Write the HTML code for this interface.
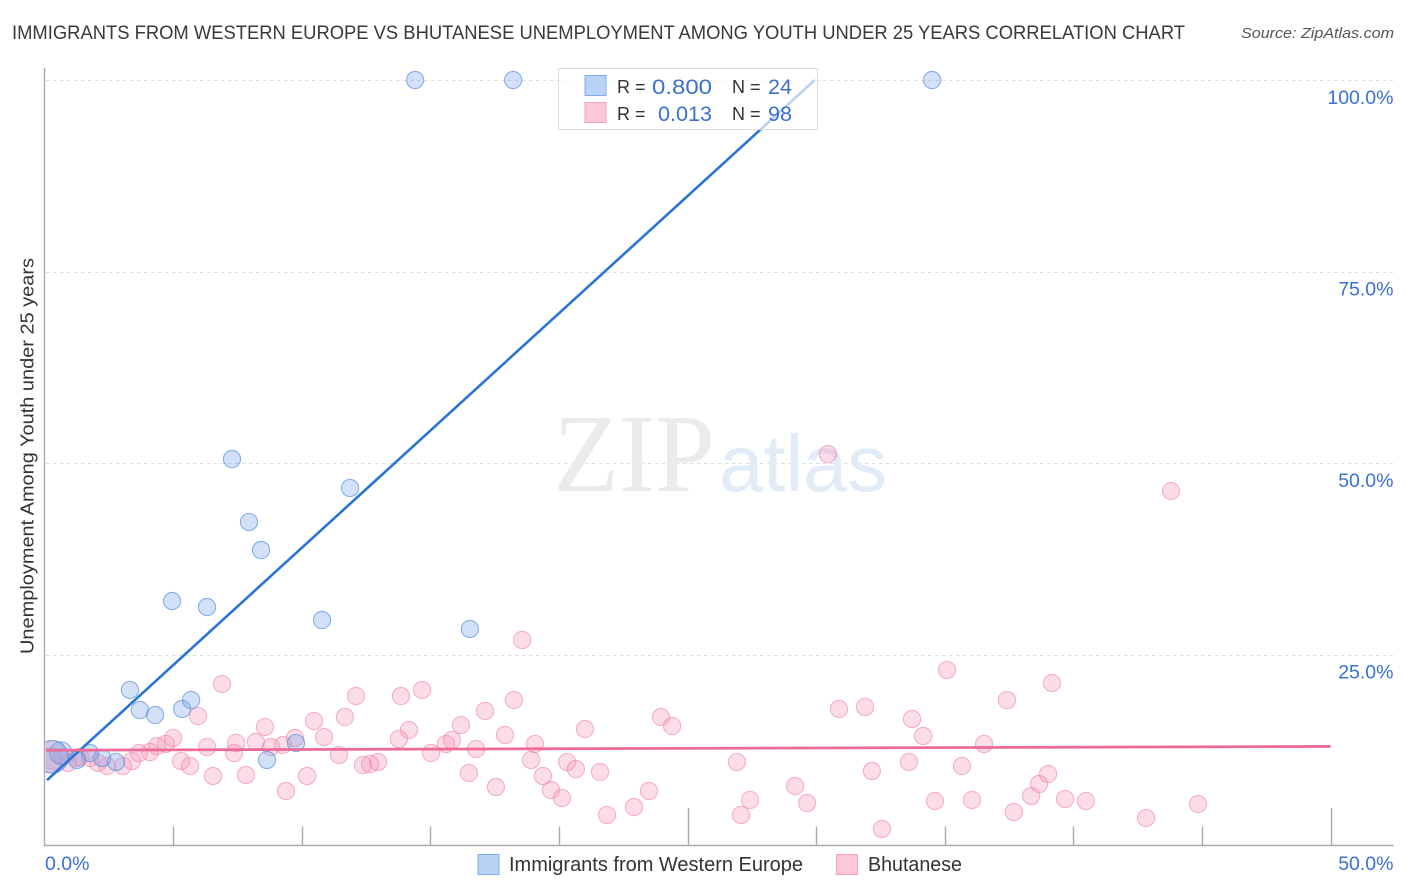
<!DOCTYPE html>
<html lang="en">
<head>
<meta charset="utf-8">
<title>Immigrants from Western Europe vs Bhutanese Unemployment Correlation Chart</title>
<style>
  html, body { margin: 0; padding: 0; background: #fff; }
  body { width: 1406px; height: 892px; overflow: hidden; }
  svg { display: block; font-family: "Liberation Sans", sans-serif; }
</style>
</head>
<body>
<svg id="chart" xmlns="http://www.w3.org/2000/svg" width="1406" height="892" viewBox="0 0 1406 892">
  <defs>
    <clipPath id="plot-clip"><rect x="45.5" y="60" width="1350" height="785"/></clipPath>
  </defs>
  <text x="12" y="39" font-size="19.5" fill="#38383e" textLength="1173" lengthAdjust="spacingAndGlyphs">IMMIGRANTS FROM WESTERN EUROPE VS BHUTANESE UNEMPLOYMENT AMONG YOUTH UNDER 25 YEARS CORRELATION CHART</text>
  <text x="1241" y="38" font-size="15" font-style="italic" fill="#555" textLength="153" lengthAdjust="spacingAndGlyphs">Source: ZipAtlas.com</text>

  <g id="grid"></g>

  <g>
    <text x="553" y="491" font-family="'Liberation Serif', serif" font-size="111" fill="#ebebeb" textLength="162" lengthAdjust="spacingAndGlyphs">ZIP</text>
    <text x="719" y="491" font-size="80" fill="#e2ebf8" textLength="168" lengthAdjust="spacingAndGlyphs">atlas</text>
  </g>

  <g id="axes"></g>
  <g id="pink-points" clip-path="url(#plot-clip)"></g>
  <g id="blue-points" clip-path="url(#plot-clip)"></g>
  <g id="trends"></g>
  <g id="y-labels"></g>
  <g id="x-labels"></g>

  <text transform="translate(33.5 654) rotate(-90)" font-size="18" fill="#333" textLength="396" lengthAdjust="spacingAndGlyphs">Unemployment Among Youth under 25 years</text>

  <g>
    <rect x="558.5" y="68.5" width="259" height="61" fill="#fff" fill-opacity="0.68" stroke="#dcdcdc" stroke-width="1"/>
    <rect x="585" y="75.5" width="21" height="20" fill="#b9d3f7" stroke="#7fadea" stroke-width="1"/>
    <rect x="585" y="102.5" width="21" height="20" fill="#fcc8d9" stroke="#f3a2bd" stroke-width="1"/>
    <text x="617" y="93" font-size="18" fill="#333">R =</text>
    <text x="652" y="94" font-size="21" fill="#3a70d0" textLength="60" lengthAdjust="spacingAndGlyphs">0.800</text>
    <text x="732" y="93" font-size="18" fill="#333">N =</text>
    <text x="768" y="94" font-size="21" fill="#3a70d0" textLength="24" lengthAdjust="spacingAndGlyphs">24</text>
    <text x="617" y="120" font-size="18" fill="#333">R =</text>
    <text x="658" y="121" font-size="21" fill="#3a70d0" textLength="54" lengthAdjust="spacingAndGlyphs">0.013</text>
    <text x="732" y="120" font-size="18" fill="#333">N =</text>
    <text x="768" y="121" font-size="21" fill="#3a70d0" textLength="24" lengthAdjust="spacingAndGlyphs">98</text>
  </g>

  <g>
    <rect x="478" y="854.5" width="21" height="20" fill="#b9d3f7" stroke="#7fadea" stroke-width="1"/>
    <text x="509" y="871" font-size="20" fill="#333" textLength="294" lengthAdjust="spacingAndGlyphs">Immigrants from Western Europe</text>
    <rect x="836.5" y="854.5" width="21" height="20" fill="#fcc8d9" stroke="#f3a2bd" stroke-width="1"/>
    <text x="868" y="871" font-size="20" fill="#333" textLength="94" lengthAdjust="spacingAndGlyphs">Bhutanese</text>
  </g>
</svg>

<script>
const blueX = [14.41,18.22,34.51,7.29,11.88,7.95,8.42,4.96,6.32,10.79,16.54,3.32,3.71,4.30,5.35,5.70,9.78,8.65,2.78,2.24,1.77,1.26,0.64,0.29];
const blueY = [100,100,100,50.52,46.74,42.30,38.64,31.98,31.20,29.50,28.33,20.37,17.75,17.10,17.89,19.06,13.45,11.23,10.97,11.49,12.14,11.23,12.14,11.62];
const blueWeight = [1,1,1,1,1,1,1,1,1,1,1,1,1,1,1,1,1,1,1,1,1,1,1.7,3.6];

const pinkX = [30.46,43.80,18.57,35.09,39.17,37.42,30.89,31.90,33.73,34.16,36.53,33.61,35.67,32.17,39.02,38.67,38.36,34.62,36.06,39.68,40.49,37.69,42.83,44.85,32.56,
  23.97,24.40,21.01,21.60,26.92,29.18,23.50,27.43,29.65,22.92,21.87,27.08,
  12.11,13.86,14.68,18.25,17.13,11.68,10.48,16.19,10.87,9.74,17.90,14.17,13.78,19.07,15.84,15.61,16.78,11.45,15.03,18.92,12.97,12.66,12.38,20.32,20.66,16.50,19.38,10.21,19.69,17.55,20.12,9.39,
  6.90,5.97,8.57,5.00,4.72,4.37,6.32,7.45,8.22,8.81,9.27,4.10,3.67,7.37,5.31,5.66,3.40,3.05,2.43,2.08,6.55,7.83,
  1.77,1.26,1.38,0.91,0.68,0.33,0.21];
const pinkY = [51.17,46.34,26.89,22.98,21.28,19.06,17.89,18.15,16.58,14.36,13.32,10.97,10.44,9.79,9.40,8.09,6.53,5.87,6.01,6.14,5.87,4.44,3.66,5.48,2.22,
  16.84,15.67,15.27,9.66,10.97,7.83,7.18,6.01,5.61,5.09,4.05,4.05,
  19.58,19.58,20.37,19.06,17.62,16.84,16.32,15.80,14.23,14.10,14.49,15.14,13.97,13.32,13.84,13.32,12.66,11.88,12.14,11.23,10.97,10.70,10.57,10.97,10.05,9.53,9.14,9.14,7.31,7.70,6.27,7.18,
  21.15,16.97,15.54,14.10,13.32,13.05,12.92,13.45,13.58,12.92,13.19,12.27,12.14,12.14,11.10,10.44,11.10,10.44,10.44,10.84,9.14,9.27,
  11.49,11.49,11.62,10.84,11.62,11.88,11.23];
const pinkWeight = [1,1,1,1,1,1,1,1,1,1,1,1,1,1,1,1,1,1,1,1,1,1,1,1,1,
  1,1,1,1,1,1,1,1,1,1,1,1,
  1,1,1,1,1,1,1,1,1,1,1,1,1,1,1,1,1,1,1,1,1,1,1,1,1,1,1,1,1,1,1,1,
  1,1,1,1,1,1,1,1,1,1,1,1,1,1,1,1,1,1,1,1,1,1,
  1,1,1,1,1,2.8,2];

const blueTrendX = [0.1, 29.95];
const blueTrendY = [8.6, 100];
const pinkTrendX = [0.06, 50];
const pinkTrendY = [12.5, 13];

const xTickValues = [5,10,15,20,25,30,35,40,45,50];
const xMajorTicks = [25,50];
const xTickLabels = ["0.0%","50.0%"];
const xLabelValues = [0,50];
const yTickValues = [100,75,50,25];
const yTickLabels = ["100.0%","75.0%","50.0%","25.0%"];

function xScale(v) { return 44.5 + v * 25.72; }
function yScale(v) { return 846 - v * 7.66; }

const NS = "http://www.w3.org/2000/svg";
function mk(tag, parent, attrs) {
  const el = document.createElementNS(NS, tag);
  for (const k in attrs) el.setAttribute(k, attrs[k]);
  parent.appendChild(el);
  return el;
}

const grid = document.getElementById("grid");
const axes = document.getElementById("axes");
const yLabels = document.getElementById("y-labels");
const xLabels = document.getElementById("x-labels");
const pinkLayer = document.getElementById("pink-points");
const blueLayer = document.getElementById("blue-points");
const trends = document.getElementById("trends");

yTickValues.forEach(function (v, i) {
  const y = Math.round(yScale(v)) + 0.5;
  const line = mk("line", grid, {x1: 46, x2: 1393, y1: y, y2: y, stroke: "#dddddd", "stroke-width": 1, "stroke-dasharray": "3.5 3.5"});
  
  
  const t = mk("text", yLabels, {x: 1393.5, y: yScale(v) + 24, "text-anchor": "end", "font-size": 19.5, fill: "#3a70d0"});
  t.textContent = yTickLabels[i];
  
  
});

const yAxis = mk("line", axes, {x1: 44.5, x2: 44.5, y1: 68, y2: 846, stroke: "#aaaaaa", "stroke-width": 1.4});


const xAxis = mk("line", axes, {x1: 44, x2: 1393.5, y1: 845.5, y2: 845.5, stroke: "#aaaaaa", "stroke-width": 1.4});



xTickValues.forEach(function (v) {
  const x = Math.round(xScale(v)) + 0.5;
  const top = xMajorTicks.indexOf(v) >= 0 ? 808 : 826.5;
  const tick = mk("line", axes, {x1: x, x2: x, y1: top, y2: 845.5, stroke: "#aaaaaa", "stroke-width": 1.4});
  
  
});

xTickLabels.forEach(function (label, i) {
  const isEnd = xLabelValues[i] > 0;
  const t = mk("text", xLabels, {x: isEnd ? 1393.5 : 45, y: 870, "text-anchor": isEnd ? "end" : "start", "font-size": 19.5, fill: "#3a70d0"});
  t.textContent = label;
  
  
});

pinkX.forEach(function (v, i) {
  const c = mk("circle", pinkLayer, {cx: xScale(v), cy: yScale(pinkY[i]), r: 8.6 * Math.sqrt(pinkWeight[i]), fill: "#f48fb1", "fill-opacity": 0.3, stroke: "#ee86a9", "stroke-opacity": 0.6, "stroke-width": 1.1});
  
  
});

blueX.forEach(function (v, i) {
  const c = mk("circle", blueLayer, {cx: xScale(v), cy: yScale(blueY[i]), r: 8.6 * Math.sqrt(blueWeight[i]), fill: "#7fa9ea", "fill-opacity": 0.35, stroke: "#4f8ce0", "stroke-opacity": 0.65, "stroke-width": 1.1});
  
  
});

const blueTrend = mk("line", trends, {x1: xScale(blueTrendX[0]), y1: yScale(blueTrendY[0]), x2: xScale(blueTrendX[1]), y2: yScale(blueTrendY[1]), stroke: "#2a74d6", "stroke-width": 2.6});


const pinkTrend = mk("line", trends, {x1: xScale(pinkTrendX[0]), y1: yScale(pinkTrendY[0]), x2: xScale(pinkTrendX[1]), y2: yScale(pinkTrendY[1]), stroke: "#ee6a97", "stroke-width": 2.8});


</script>
</body>
</html>
